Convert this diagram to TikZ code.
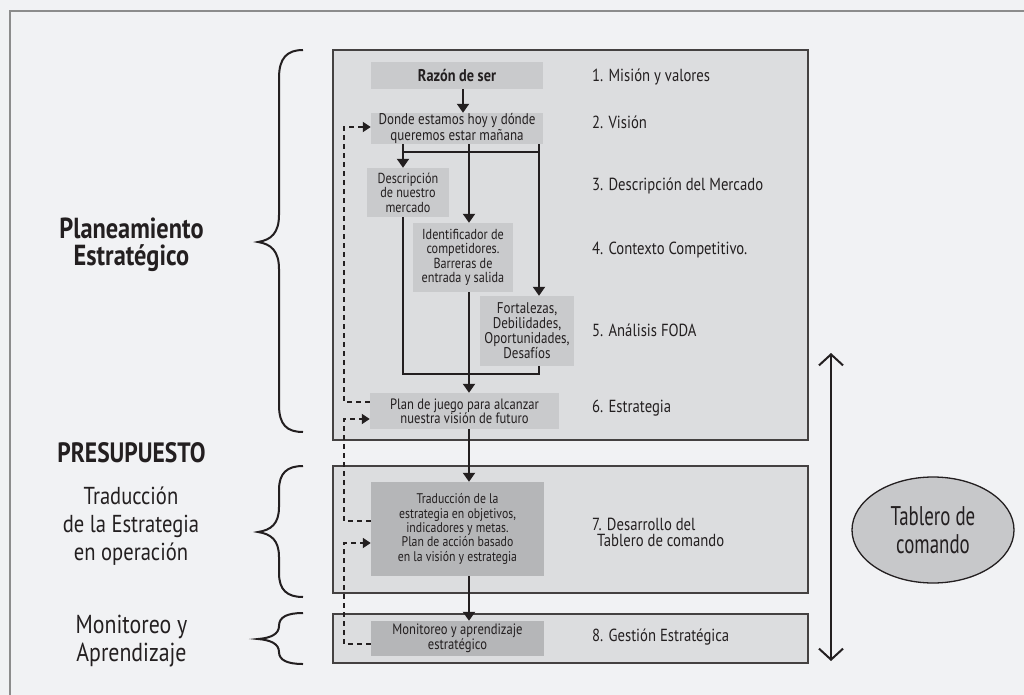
\documentclass[tikz,border=0pt]{standalone}
\usepackage{fontspec}
\setmainfont{PT Sans}[FakeStretch=0.84]
\newfontfamily\condfont{PT Sans}[FakeStretch=0.7]
\usetikzlibrary{arrows.meta,shapes.geometric}
\definecolor{bgc}{HTML}{F1F2F4}
\definecolor{boxc}{HTML}{DCDDDF}
\definecolor{ibc}{HTML}{C9CACC}
\definecolor{dbc}{HTML}{B5B6B8}
\definecolor{elc}{HTML}{C7C8CA}
\definecolor{ink}{HTML}{231F20}
\definecolor{framec}{HTML}{8C8C8C}
\tikzset{
  bigbox/.style={draw=ink!85, fill=boxc, line width=1.3pt, inner sep=0pt},
  ibox/.style={fill=ibc, inner sep=0pt, align=center, text=ink},
  dbox/.style={fill=dbc, inner sep=0pt, align=center, text=ink},
  rlabel/.style={anchor=west, inner sep=0pt, text=ink, align=left, font=\fontsize{17.5}{16}\selectfont},
  llabel/.style={inner sep=0pt, text=ink, align=center},
  line/.style={draw=ink, line width=2pt},
  arr/.style={draw=ink, line width=2pt, -{Triangle[width=12pt,length=9pt]}},
  darr/.style={draw=ink, line width=1.8pt, dash pattern=on 5pt off 4pt, -{Triangle[width=10pt,length=8pt]}},
  brace/.style={draw=ink, line width=2pt},
}
\begin{document}
\begin{tikzpicture}[x=1pt,y=-1pt]
\useasboundingbox (0,0) rectangle (1024,695);
\fill[bgc] (0,0) rectangle (1024,695);
\draw[framec, line width=2pt] (10,695) -- (10,11) -- (1024,11);

% big boxes
\node[bigbox, minimum width=475, minimum height=390] (b1) at (570.5,245) {};
\node[bigbox, minimum width=475, minimum height=127] (b2) at (570.5,529.5) {};
\node[bigbox, minimum width=475, minimum height=49] (b3) at (570.5,638.5) {};

% inner boxes
\node[ibox, minimum width=172, minimum height=27, font=\bfseries\fontsize{17}{16}\selectfont] (razon) at (457,75.5) {Razón de ser};
\node[ibox, minimum width=172, minimum height=31, font=\fontsize{15.5}{12.7}\selectfont] (donde) at (457,128.5) {Donde estamos hoy y dónde\\queremos estar mañana};
\node[ibox, minimum width=82, minimum height=49, font=\fontsize{14.5}{14.5}\selectfont] (desc) at (408,192.5) {Descripción\\de nuestro\\mercado};
\node[ibox, minimum width=100, minimum height=69, font=\fontsize{14.5}{14.5}\selectfont] (ident) at (463,257.5) {Identificador de\\competidores.\\Barreras de\\entrada y salida};
\node[ibox, minimum width=94, minimum height=70, font=\fontsize{15.5}{15}\selectfont] (fort) at (527,331) {Fortalezas,\\Debilidades,\\Oportunidades,\\Desafíos};
\node[ibox, minimum width=189, minimum height=36, font=\fontsize{15}{14.3}\selectfont] (plan) at (464.5,411) {Plan de juego para alcanzar\\nuestra visión de futuro};
\node[dbox, minimum width=173, minimum height=94, font=\fontsize{14}{14.3}\selectfont] (trad) at (457.5,529) {Traducción de la\\estrategia en objetivos,\\indicadores y metas.\\Plan de acción basado\\en la visión y estrategia};
\node[dbox, minimum width=173, minimum height=35, font=\fontsize{15}{13}\selectfont] (moni) at (457.5,638.5) {Monitoreo y aprendizaje\\estratégico};

% right labels
\node[rlabel] (l1) at (592,77) {1. Misión y valores};
\node[rlabel] (l2) at (592,122) {2. Visión};
\node[rlabel] (l3) at (592,186) {3. Descripción del Mercado};
\node[rlabel] (l4) at (592,250) {4. Contexto Competitivo.};
\node[rlabel] (l5) at (592,330) {5. Análisis FODA};
\node[rlabel] (l6) at (592,408) {6. Estrategia};
\node[rlabel] (l7) at (592,532) {7. Desarrollo del\\\hspace*{5pt}Tablero de comando};
\node[rlabel] (l8) at (592,637) {8. Gestión Estratégica};

% left labels
\node[llabel, font=\bfseries\fontsize{29}{27.5}\selectfont] (pe) at (131.5,245) {Planeamiento\\Estratégico};
\node[llabel, font=\bfseries\fontsize{28}{26}\selectfont] (pres) at (131.5,453) {PRESUPUESTO};
\node[llabel, font=\fontsize{24.5}{28}\selectfont] (tr) at (131,526) {Traducción\\de la Estrategia\\en operación};
\node[llabel, font=\fontsize{26}{28}\selectfont] (ma) at (131.5,641) {Monitoreo y\\Aprendizaje};

% connectors
\coordinate (xa) at (403,152);
\coordinate (xb) at (469,152);
\coordinate (xc) at (539,152);
\coordinate (xr) at (463,0);
\coordinate (yb) at (469,374);
\draw[arr] (razon.south -| xr) -- (donde.north -| xr);
\draw[line] (donde.south -| xa) -- (xa);
\draw[line] (donde.south -| xb) -- (xb);
\draw[line] (donde.south -| xc) -- (xc);
\draw[line] ([xshift=-1pt]xa) -- ([xshift=1pt]xc);
\draw[arr] (xa) -- (desc.north -| xa);
\draw[arr] (xb) -- (ident.north -| xb);
\draw[arr] (xc) -- (fort.north -| xc);
\draw[line] (desc.south -| xa) -- (xa |- yb) -- (xc |- yb) -- (fort.south -| xc);
\draw[arr] (ident.south -| xb) -- (plan.north -| xb);
\draw[arr] (plan.south -| xb) -- (trad.north -| xb);
\draw[arr] (trad.south -| xb) -- (moni.north -| xb);

% dashed feedback
\coordinate (xd) at (344,0);
\coordinate (mo) at ([yshift=-5.5pt]moni.west);
\coordinate (ti) at ([yshift=-14pt]trad.west);
\coordinate (to) at ([yshift=8pt]trad.west);
\coordinate (pi) at ([yshift=-8pt]plan.west);
\coordinate (po) at ([yshift=9pt]plan.west);
\coordinate (di) at ([yshift=1.5pt]donde.west);
\draw[darr] (mo) -- (mo -| xd) -- (ti -| xd) -- (ti);
\draw[darr] (to) -- (to -| xd) -- (pi -| xd) -- (pi);
\draw[darr] (po) -- (po -| xd) -- (di -| xd) -- (di);

% braces
\draw[brace] (303,50) .. controls (287,50) and (279,58) .. (279,78) -- (279,215) .. controls (279,233) and (271,240) .. (258,242) .. controls (271,244) and (279,251) .. (279,269) -- (279,405) .. controls (279,425) and (287,432) .. (303,432);
\draw[brace] (303,466) .. controls (287,466) and (279,473) .. (279,490) -- (279,507) .. controls (279,524) and (271,530) .. (258,532) .. controls (271,534) and (279,540) .. (279,557) -- (279,573) .. controls (279,590) and (287,597) .. (303,597);
\draw[brace] (303,613) .. controls (287,613) and (279,617) .. (279,626) .. controls (279,634) and (271,638) .. (258,639) .. controls (271,640) and (279,644) .. (279,652) .. controls (279,660) and (287,664) .. (303,664);

% double arrow
\coordinate (at) at (831,353);
\coordinate (ab) at (831,661);
\draw[draw=ink, line width=2pt, {Straight Barb[length=11pt,width=24pt,line width=2pt]}-{Straight Barb[length=11pt,width=24pt,line width=2pt]}] (at) -- (ab);

% ellipse
\node[ellipse, draw=ink, line width=1.3pt, fill=elc, minimum width=162, minimum height=106, inner sep=0pt, align=center, text=ink, font=\condfont\fontsize{27}{28}\selectfont] (tab) at (933,530) {Tablero de\\comando};
\end{tikzpicture}
\end{document}
